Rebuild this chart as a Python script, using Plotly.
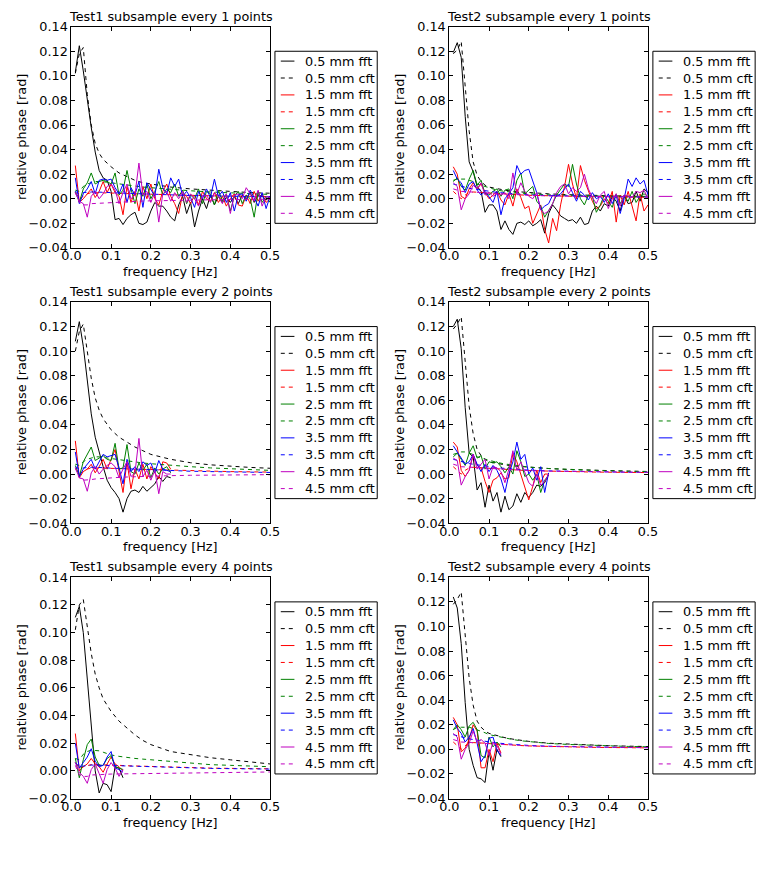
import plotly.graph_objects as go

W, H = 771, 895

FREQ = [0.01, 0.02, 0.03, 0.04, 0.05, 0.06, 0.07, 0.08, 0.09, 0.10,
        0.11, 0.12, 0.13, 0.14, 0.15, 0.16, 0.17, 0.18, 0.19, 0.20,
        0.21, 0.22, 0.23, 0.24, 0.25, 0.26, 0.27, 0.28, 0.29, 0.30,
        0.31, 0.32, 0.33, 0.34, 0.35, 0.36, 0.37, 0.38, 0.39, 0.40,
        0.41, 0.42, 0.43, 0.44, 0.45, 0.46, 0.47, 0.48, 0.49, 0.50]
CFT_FREQ = [0.01, 0.02, 0.03, 0.04, 0.05, 0.06, 0.07, 0.08, 0.09, 0.10,
            0.12, 0.14, 0.16, 0.18, 0.20, 0.25, 0.30, 0.35, 0.40, 0.45, 0.50]

DEPTHS = ["0.5 mm", "1.5 mm", "2.5 mm", "3.5 mm", "4.5 mm"]
COLORS = ["#000000", "#ff0000", "#008000", "#0000ff", "#bf00bf"]
TITLES = ["Test1 subsample every 1 points", "Test2 subsample every 1 points",
          "Test1 subsample every 2 points", "Test2 subsample every 2 points",
          "Test1 subsample every 4 points", "Test2 subsample every 4 points"]
X_TICKS = [0.0, 0.1, 0.2, 0.3, 0.4, 0.5]
Y_RANGES = [[-0.04, 0.14], [-0.04, 0.14], [-0.04, 0.14], [-0.04, 0.14], [-0.02, 0.14], [-0.04, 0.14]]

# ---------------- Test1, every 1 point ----------------
t1_e1_fft_05 = [0.103, 0.1245, 0.104, 0.08, 0.058, 0.038, 0.023, 0.017, 0.015, 0.006,
                -0.017, -0.016, -0.021, -0.016, -0.013, -0.011, -0.02, -0.021, -0.019, -0.01,
                -0.003, -0.006, -0.006, -0.01, -0.015, -0.018, -0.005, 0.002, -0.012, -0.003,
                -0.023, -0.01, 0.0, -0.008, 0.003, -0.005, 0.002, -0.003, 0.001, -0.003,
                0.002, -0.004, 0.003, 0.0, 0.005, -0.003, 0.003, 0.002, -0.001, 0.002]
t1_e1_fft_15 = [0.027, -0.003, 0.0, 0.004, 0.008, 0.001, 0.006, 0.014, 0.005, 0.012,
                0.005, 0.002, -0.013, 0.01, -0.003, 0.006, -0.01, 0.01, 0.0, 0.012,
                0.0, -0.005, 0.006, 0.012, 0.002, -0.004, -0.012, 0.004, 0.002, -0.004,
                0.003, -0.005, 0.006, 0.0, -0.002, 0.005, -0.003, 0.002, -0.006, 0.0,
                0.004, -0.005, -0.006, 0.003, -0.004, 0.006, -0.002, 0.004, -0.003, 0.0]
t1_e1_fft_25 = [0.006, -0.003, 0.008, 0.013, 0.021, 0.012, 0.014, 0.015, 0.014, 0.012,
                0.021, 0.003, 0.007, 0.023, 0.008, -0.004, 0.008, 0.002, 0.012, 0.0,
                0.006, 0.014, 0.003, 0.008, 0.005, 0.012, 0.002, 0.007, -0.004, 0.003,
                0.0, 0.008, -0.004, 0.006, 0.004, -0.005, 0.007, -0.002, 0.004, -0.01,
                0.002, 0.006, -0.004, 0.003, 0.0, -0.015, 0.006, -0.003, 0.002, -0.003]
t1_e1_fft_35 = [0.017, -0.004, 0.004, 0.008, 0.014, 0.004, 0.015, 0.016, 0.015, 0.016,
                0.009, 0.004, 0.012, -0.003, 0.009, 0.003, 0.014, -0.007, 0.013, 0.008,
                0.002, 0.024, 0.009, 0.004, 0.017, 0.01, 0.016, 0.002, 0.006, 0.001,
                -0.007, 0.006, 0.0, 0.008, 0.001, 0.016, 0.002, 0.006, -0.003, 0.005,
                -0.01, 0.003, 0.004, -0.002, 0.007, 0.001, -0.006, 0.005, -0.008, 0.002]
t1_e1_fft_45 = [0.005, -0.002, -0.004, -0.015, 0.002, 0.006, 0.0, 0.004, 0.01, 0.012,
                0.007, -0.004, 0.005, 0.012, 0.0, 0.003, 0.029, 0.003, 0.006, -0.003,
                0.005, -0.019, 0.004, 0.006, -0.002, 0.005, 0.0, 0.006, -0.003, 0.004,
                0.0, -0.006, 0.002, 0.003, -0.003, 0.005, 0.002, -0.004, 0.004, -0.012,
                0.003, 0.004, 0.0, 0.009, 0.004, -0.002, 0.007, -0.006, 0.002, 0.001]
t1_e1_cft_05 = [0.102, 0.118, 0.123, 0.085, 0.06, 0.045, 0.037, 0.032, 0.029, 0.026,
                0.021, 0.018, 0.015, 0.013, 0.012, 0.0095, 0.008, 0.0068, 0.0058, 0.005, 0.0045]
t1_e1_cft_15 = [0.005, 0.0, 0.002, 0.004, 0.005, 0.005, 0.005, 0.005, 0.005, 0.0048,
                0.0045, 0.0042, 0.004, 0.0038, 0.0035, 0.003, 0.0027, 0.0024, 0.0022, 0.002, 0.0018]
t1_e1_cft_25 = [0.007, 0.006, 0.01, 0.012, 0.013, 0.014, 0.014, 0.014, 0.0135, 0.013,
                0.012, 0.011, 0.01, 0.0095, 0.009, 0.0075, 0.0065, 0.0055, 0.0048, 0.004, 0.0035]
t1_e1_cft_35 = [0.006, 0.004, 0.005, 0.0055, 0.0055, 0.0055, 0.0055, 0.0055, 0.0052, 0.005,
                0.0047, 0.0044, 0.0041, 0.0038, 0.0036, 0.003, 0.0026, 0.0023, 0.002, 0.0018, 0.0016]
t1_e1_cft_45 = [0.005, -0.003, -0.005, -0.005, -0.004, -0.0038, -0.0036, -0.0034, -0.0032, -0.003,
                -0.0027, -0.0024, -0.0021, -0.0019, -0.0017, -0.0013, -0.001, -0.0008, -0.0006, -0.0005, -0.0004]

# ---------------- Test2, every 1 point ----------------
t2_e1_fft_05 = [0.119, 0.127, 0.115, 0.067, 0.03, 0.022, 0.01, 0.006, -0.011, -0.005,
                -0.005, -0.01, -0.025, -0.018, -0.025, -0.029, -0.02, -0.019, -0.021, -0.018,
                -0.022, -0.02, -0.017, -0.028, -0.012, -0.005, -0.009, -0.014, -0.016, -0.018,
                -0.017, -0.02, -0.015, -0.021, -0.02, -0.01, -0.006, -0.01, -0.004, -0.006,
                0.002, -0.002, -0.01, 0.003, -0.004, -0.003, 0.006, -0.002, 0.008, 0.005]
t2_e1_fft_15 = [0.026, 0.02, 0.002, 0.0, 0.008, 0.013, 0.008, 0.012, 0.005, 0.0,
                0.003, 0.006, -0.001, -0.005, 0.004, -0.006, 0.008, 0.001, -0.008, -0.006,
                -0.02, -0.012, -0.005, -0.025, -0.036, -0.016, -0.026, -0.005, 0.01, 0.028,
                0.012, 0.0, 0.027, 0.015, 0.006, -0.002, -0.008, -0.006, 0.0, -0.004,
                0.006, -0.019, 0.003, -0.005, 0.006, -0.006, -0.018, 0.004, -0.01, -0.005]
t2_e1_fft_25 = [0.014, 0.017, 0.01, 0.007, 0.016, 0.023, 0.011, 0.015, 0.004, 0.003,
                0.006, 0.008, 0.002, 0.007, 0.008, 0.0, 0.015, 0.021, 0.004, 0.007,
                0.01, -0.002, -0.006, -0.015, -0.01, -0.004, 0.003, 0.008, 0.012, 0.01,
                0.028, 0.012, 0.0, -0.005, 0.003, 0.002, -0.011, -0.005, 0.003, -0.002,
                -0.007, 0.004, -0.004, 0.002, -0.002, 0.006, -0.003, 0.002, 0.004, 0.002]
t2_e1_fft_35 = [0.023, 0.016, 0.013, 0.005, 0.012, 0.014, 0.007, 0.003, 0.006, 0.001,
                -0.003, 0.006, -0.013, 0.0, 0.004, 0.009, 0.027, 0.02, 0.023, 0.024,
                0.015, 0.005, -0.009, -0.006, -0.004, 0.003, 0.002, 0.004, 0.008, 0.012,
                0.005, -0.002, 0.006, 0.003, -0.001, 0.005, 0.0, 0.002, -0.003, 0.004,
                -0.004, 0.003, -0.012, 0.0, 0.016, 0.01, 0.017, 0.012, 0.015, 0.003]
t2_e1_fft_45 = [0.013, 0.01, -0.009, 0.0, 0.004, 0.011, 0.008, 0.013, 0.003, 0.005,
                0.002, 0.004, 0.003, 0.005, 0.0, 0.021, 0.004, 0.013, 0.006, 0.002,
                0.0, 0.005, -0.009, -0.012, -0.01, -0.004, 0.005, 0.01, 0.012, 0.004,
                0.009, 0.006, 0.009, 0.02, 0.008, 0.001, -0.004, 0.003, 0.006, -0.008,
                0.0, 0.004, -0.006, 0.003, 0.002, 0.001, 0.006, 0.005, 0.007, 0.0]
t2_e1_cft_05 = [0.118, 0.121, 0.128, 0.09, 0.055, 0.03, 0.019, 0.014, 0.011, 0.0095,
                0.008, 0.007, 0.006, 0.0055, 0.005, 0.004, 0.0033, 0.0028, 0.0024, 0.0021, 0.0019]
t2_e1_cft_15 = [0.006, 0.003, 0.0, 0.003, 0.005, 0.0055, 0.0055, 0.0052, 0.005, 0.0047,
                0.0042, 0.0038, 0.0034, 0.0031, 0.0028, 0.0023, 0.002, 0.0017, 0.0015, 0.0013, 0.0012]
t2_e1_cft_25 = [0.015, 0.016, 0.016, 0.016, 0.015, 0.014, 0.012, 0.011, 0.0095, 0.0085,
                0.007, 0.006, 0.0052, 0.0046, 0.004, 0.0032, 0.0027, 0.0023, 0.002, 0.0018, 0.0016]
t2_e1_cft_35 = [0.012, 0.011, 0.01, 0.009, 0.0085, 0.008, 0.0075, 0.007, 0.0065, 0.006,
                0.0052, 0.0046, 0.004, 0.0036, 0.0032, 0.0026, 0.0022, 0.0019, 0.0017, 0.0015, 0.0014]
t2_e1_cft_45 = [0.008, 0.007, 0.006, 0.0058, 0.0056, 0.0054, 0.0052, 0.005, 0.0048, 0.0046,
                0.0042, 0.0038, 0.0034, 0.0031, 0.0028, 0.0023, 0.002, 0.0018, 0.0016, 0.0015, 0.0014]

# ---------------- Test1, every 2 points ----------------
t1_e2_fft_05 = [0.108, 0.124, 0.104, 0.078, 0.049, 0.03, 0.017, 0.006, -0.005, -0.011,
                -0.015, -0.02, -0.031, -0.02, -0.014, -0.013, -0.015, -0.01, -0.014, -0.011,
                -0.008, -0.002, -0.006, -0.002, -0.003]
t1_e2_fft_15 = [0.027, -0.003, 0.002, 0.004, 0.008, 0.001, 0.006, 0.012, 0.004, 0.012,
                0.02, 0.002, -0.015, 0.01, -0.012, 0.004, -0.004, 0.008, -0.004, 0.006,
                0.001, -0.004, 0.01, 0.009, 0.004]
t1_e2_fft_25 = [0.007, -0.002, 0.01, 0.016, 0.022, 0.011, 0.013, 0.015, 0.012, 0.011,
                0.025, 0.004, 0.005, 0.024, 0.002, 0.0, 0.009, 0.003, 0.008, -0.003,
                0.005, 0.0, 0.004, 0.006, 0.001]
t1_e2_fft_35 = [0.018, -0.002, 0.004, 0.008, 0.012, 0.004, 0.01, 0.016, 0.014, 0.015,
                0.016, 0.005, -0.008, 0.012, 0.002, 0.006, 0.002, 0.01, 0.007, 0.009,
                0.001, 0.011, 0.004, 0.003, 0.002]
t1_e2_fft_45 = [0.005, -0.003, -0.004, -0.014, 0.001, 0.006, 0.0, 0.004, 0.007, 0.009,
                0.006, -0.003, 0.004, 0.01, -0.002, 0.001, 0.029, -0.002, 0.003, -0.005,
                0.003, -0.016, 0.002, 0.0, 0.0]
t1_e2_cft_05 = [0.1, 0.116, 0.122, 0.1, 0.078, 0.062, 0.052, 0.045, 0.04, 0.036,
                0.03, 0.026, 0.022, 0.019, 0.016, 0.012, 0.0092, 0.0075, 0.0063, 0.0054, 0.0047]
t1_e2_cft_15 = [0.005, 0.0, 0.002, 0.004, 0.005, 0.005, 0.005, 0.005, 0.005, 0.0048,
                0.0045, 0.0042, 0.004, 0.0037, 0.0034, 0.0029, 0.0025, 0.0022, 0.002, 0.0018, 0.0016]
t1_e2_cft_25 = [0.008, 0.007, 0.01, 0.012, 0.013, 0.014, 0.014, 0.0135, 0.013, 0.0125,
                0.0115, 0.0105, 0.0097, 0.009, 0.0084, 0.007, 0.006, 0.005, 0.0042, 0.0036, 0.003]
t1_e2_cft_35 = [0.006, 0.004, 0.005, 0.0055, 0.0055, 0.0055, 0.0055, 0.0053, 0.005, 0.0048,
                0.0045, 0.0042, 0.0039, 0.0036, 0.0033, 0.0027, 0.0023, 0.002, 0.0017, 0.0015, 0.0013]
t1_e2_cft_45 = [0.005, -0.003, -0.005, -0.005, -0.0045, -0.004, -0.0037, -0.0035, -0.0033, -0.003,
                -0.0027, -0.0024, -0.0021, -0.0019, -0.0017, -0.0013, -0.001, -0.0008, -0.0007, -0.0006, -0.0005]

# ---------------- Test2, every 2 points ----------------
t2_e2_fft_05 = [0.12, 0.126, 0.102, 0.054, 0.017, 0.014, -0.013, -0.007, -0.027, -0.009,
                -0.022, -0.015, -0.031, -0.018, -0.029, -0.026, -0.016, -0.023, -0.015, -0.019,
                -0.015, -0.009, -0.01, -0.007, 0.0]
t2_e2_fft_15 = [0.026, 0.022, 0.003, -0.002, 0.003, 0.016, 0.007, 0.005, -0.006, -0.015,
                -0.005, -0.003, 0.001, -0.004, -0.003, 0.017, 0.01, 0.0, -0.012, -0.021,
                -0.01, 0.003, -0.007, 0.0, 0.0]
t2_e2_fft_25 = [0.014, 0.017, 0.012, 0.007, 0.017, 0.023, 0.013, 0.015, 0.004, 0.01,
                0.009, 0.01, 0.006, 0.001, 0.006, 0.0, 0.019, 0.01, -0.002, 0.0,
                -0.005, 0.0, -0.015, -0.005, -0.001]
t2_e2_fft_35 = [0.023, 0.018, 0.014, 0.008, 0.01, 0.016, 0.008, 0.002, 0.008, 0.002,
                0.007, 0.003, -0.004, -0.015, 0.0, 0.01, 0.026, 0.012, 0.016, 0.0,
                0.005, -0.005, 0.006, -0.015, 0.001]
t2_e2_fft_45 = [0.013, 0.011, -0.009, -0.002, 0.003, 0.016, 0.004, 0.008, 0.012, -0.004,
                0.006, 0.005, 0.002, -0.007, 0.004, 0.019, 0.003, 0.01, 0.002, -0.007,
                -0.01, 0.0, -0.009, -0.006, 0.0]
t2_e2_cft_05 = [0.118, 0.122, 0.128, 0.09, 0.055, 0.033, 0.02, 0.015, 0.012, 0.01,
                0.0085, 0.0075, 0.0066, 0.006, 0.0055, 0.0045, 0.0037, 0.0031, 0.0027, 0.0024, 0.0021]
t2_e2_cft_15 = [0.006, 0.003, 0.0, 0.003, 0.005, 0.0055, 0.0055, 0.0052, 0.005, 0.0047,
                0.0042, 0.0038, 0.0034, 0.0031, 0.0028, 0.0023, 0.002, 0.0017, 0.0015, 0.0013, 0.0012]
t2_e2_cft_25 = [0.016, 0.017, 0.018, 0.018, 0.017, 0.016, 0.014, 0.013, 0.012, 0.011,
                0.0095, 0.0082, 0.0072, 0.0064, 0.0057, 0.0045, 0.0037, 0.003, 0.0026, 0.0023, 0.002]
t2_e2_cft_35 = [0.012, 0.011, 0.01, 0.009, 0.0085, 0.008, 0.0075, 0.007, 0.0065, 0.006,
                0.0052, 0.0046, 0.004, 0.0036, 0.0032, 0.0026, 0.0022, 0.0019, 0.0017, 0.0015, 0.0014]
t2_e2_cft_45 = [0.008, 0.007, 0.006, 0.0058, 0.0056, 0.0054, 0.0052, 0.005, 0.0048, 0.0046,
                0.0042, 0.0038, 0.0034, 0.0031, 0.0028, 0.0023, 0.002, 0.0018, 0.0016, 0.0015, 0.0014]

# ---------------- Test1, every 4 points ----------------
t1_e4_fft_05 = [0.111, 0.119, 0.1, 0.066, 0.031, 0.0, -0.016, -0.009, -0.01, -0.015,
                0.003, 0.002, -0.005]
t1_e4_fft_15 = [0.027, 0.0, 0.003, 0.005, 0.009, 0.005, 0.003, -0.001, 0.005, 0.01,
                0.005, 0.003, 0.0]
t1_e4_fft_25 = [0.009, -0.005, 0.008, 0.019, 0.023, 0.01, 0.004, 0.004, 0.009, 0.011,
                0.003, 0.002, 0.001]
t1_e4_fft_35 = [0.02, 0.002, 0.006, 0.01, 0.016, 0.007, 0.003, 0.004, 0.01, 0.014,
                0.002, 0.001, -0.001]
t1_e4_fft_45 = [0.006, -0.001, -0.004, -0.009, 0.001, 0.005, -0.002, -0.009, 0.001, 0.006,
                0.002, -0.004, 0.001]
t1_e4_cft_05 = [0.102, 0.12, 0.124, 0.105, 0.085, 0.07, 0.06, 0.052, 0.047, 0.043,
                0.036, 0.031, 0.026, 0.022, 0.019, 0.014, 0.0115, 0.0095, 0.008, 0.0065, 0.005]
t1_e4_cft_15 = [0.006, 0.002, 0.003, 0.004, 0.0045, 0.0045, 0.0045, 0.0044, 0.0043, 0.0042,
                0.004, 0.0037, 0.0035, 0.0032, 0.003, 0.0026, 0.0023, 0.002, 0.0018, 0.0016, 0.0015]
t1_e4_cft_25 = [0.009, 0.008, 0.012, 0.014, 0.015, 0.015, 0.0145, 0.0135, 0.0125, 0.0115,
                0.0105, 0.0095, 0.009, 0.0085, 0.008, 0.0065, 0.0055, 0.0045, 0.004, 0.0035, 0.003]
t1_e4_cft_35 = [0.006, 0.003, 0.0035, 0.004, 0.0042, 0.0042, 0.0041, 0.004, 0.0039, 0.0038,
                0.0036, 0.0034, 0.0032, 0.003, 0.0028, 0.0024, 0.0021, 0.0018, 0.0016, 0.0014, 0.0013]
t1_e4_cft_45 = [0.004, -0.003, -0.004, -0.004, -0.003, -0.0028, -0.0026, -0.0025, -0.0024, -0.0023,
                -0.0022, -0.0021, -0.002, -0.0019, -0.0018, -0.0016, -0.0014, -0.0012, -0.001, -0.0009, -0.0008]

# ---------------- Test2, every 4 points ----------------
t2_e4_fft_05 = [0.124, 0.115, 0.086, 0.038, 0.0, -0.013, -0.023, -0.024, -0.027, -0.002,
                -0.017, 0.0, -0.006]
t2_e4_fft_15 = [0.026, 0.02, -0.002, 0.001, 0.008, 0.02, 0.015, -0.015, -0.015, 0.0,
                -0.01, 0.005, -0.003]
t2_e4_fft_25 = [0.016, 0.02, 0.016, 0.01, 0.019, 0.022, 0.016, -0.005, -0.007, 0.01,
                0.002, 0.006, 0.002]
t2_e4_fft_35 = [0.024, 0.017, 0.013, 0.006, 0.01, 0.017, 0.005, -0.01, -0.005, 0.009,
                0.01, -0.001, -0.005]
t2_e4_fft_45 = [0.013, 0.01, -0.008, 0.0, 0.005, 0.015, 0.006, 0.008, 0.005, -0.005,
                0.006, 0.003, -0.004]
t2_e4_cft_05 = [0.118, 0.122, 0.128, 0.09, 0.058, 0.036, 0.023, 0.018, 0.015, 0.013,
                0.011, 0.0095, 0.0083, 0.0073, 0.0065, 0.005, 0.0042, 0.0035, 0.003, 0.0026, 0.0023]
t2_e4_cft_15 = [0.006, 0.003, 0.0, 0.003, 0.005, 0.0055, 0.0055, 0.0052, 0.005, 0.0047,
                0.0042, 0.0038, 0.0034, 0.0031, 0.0028, 0.0023, 0.002, 0.0017, 0.0015, 0.0013, 0.0012]
t2_e4_cft_25 = [0.016, 0.018, 0.018, 0.018, 0.018, 0.017, 0.016, 0.015, 0.0135, 0.012,
                0.0105, 0.009, 0.008, 0.007, 0.0062, 0.0048, 0.004, 0.0033, 0.0028, 0.0024, 0.0021]
t2_e4_cft_35 = [0.012, 0.011, 0.01, 0.009, 0.0085, 0.008, 0.0075, 0.007, 0.0065, 0.006,
                0.0052, 0.0046, 0.004, 0.0036, 0.0032, 0.0026, 0.0022, 0.0019, 0.0017, 0.0015, 0.0014]
t2_e4_cft_45 = [0.008, 0.007, 0.006, 0.0058, 0.0056, 0.0054, 0.0052, 0.005, 0.0048, 0.0046,
                0.0042, 0.0038, 0.0034, 0.0031, 0.0028, 0.0023, 0.002, 0.0018, 0.0016, 0.0015, 0.0014]

PANELS = [
    ([t1_e1_fft_05, t1_e1_fft_15, t1_e1_fft_25, t1_e1_fft_35, t1_e1_fft_45],
     [t1_e1_cft_05, t1_e1_cft_15, t1_e1_cft_25, t1_e1_cft_35, t1_e1_cft_45]),
    ([t2_e1_fft_05, t2_e1_fft_15, t2_e1_fft_25, t2_e1_fft_35, t2_e1_fft_45],
     [t2_e1_cft_05, t2_e1_cft_15, t2_e1_cft_25, t2_e1_cft_35, t2_e1_cft_45]),
    ([t1_e2_fft_05, t1_e2_fft_15, t1_e2_fft_25, t1_e2_fft_35, t1_e2_fft_45],
     [t1_e2_cft_05, t1_e2_cft_15, t1_e2_cft_25, t1_e2_cft_35, t1_e2_cft_45]),
    ([t2_e2_fft_05, t2_e2_fft_15, t2_e2_fft_25, t2_e2_fft_35, t2_e2_fft_45],
     [t2_e2_cft_05, t2_e2_cft_15, t2_e2_cft_25, t2_e2_cft_35, t2_e2_cft_45]),
    ([t1_e4_fft_05, t1_e4_fft_15, t1_e4_fft_25, t1_e4_fft_35, t1_e4_fft_45],
     [t1_e4_cft_05, t1_e4_cft_15, t1_e4_cft_25, t1_e4_cft_35, t1_e4_cft_45]),
    ([t2_e4_fft_05, t2_e4_fft_15, t2_e4_fft_25, t2_e4_fft_35, t2_e4_fft_45],
     [t2_e4_cft_05, t2_e4_cft_15, t2_e4_cft_25, t2_e4_cft_35, t2_e4_cft_45]),
]

# ---------------- layout geometry (pixels) ----------------
FONT = "DejaVu Sans"
FS = 12.8
DASH = "4px,4px"
COL_LEFT = [63, 451]
AX_W = 204
ROW_TOP = [19, 299, 579]
AX_H = 225


def px(x):
    return x / W


def py(y):
    return 1 - y / H


fig = go.Figure()
layout = dict(width=W, height=H, autosize=False,
              margin=dict(l=0, r=0, t=0, b=0, pad=0),
              paper_bgcolor="white", plot_bgcolor="white",
              showlegend=False, font=dict(family=FONT, size=FS, color="black"))
annotations = []
shapes = []

for i, (ffts, cfts) in enumerate(PANELS):
    r, c = divmod(i, 2)
    n = i + 1
    xa = "x" if n == 1 else f"x{n}"
    ya = "y" if n == 1 else f"y{n}"
    left = COL_LEFT[c]
    top = ROW_TOP[r]
    for k in range(5):
        fv = ffts[k]
        fig.add_trace(go.Scatter(x=FREQ[:len(fv)], y=fv, mode="lines",
                                 name=f"{DEPTHS[k]} fft", xaxis=xa, yaxis=ya,
                                 line=dict(color=COLORS[k], width=1)))
        fig.add_trace(go.Scatter(x=CFT_FREQ, y=cfts[k], mode="lines",
                                 name=f"{DEPTHS[k]} cft", xaxis=xa, yaxis=ya,
                                 line=dict(color=COLORS[k], width=1, dash=DASH)))
    common = dict(ticks="inside", ticklen=4, tickwidth=1, tickcolor="black",
                  showline=True, linecolor="black", linewidth=1, mirror="allticks",
                  showgrid=False, zeroline=False,
                  tickfont=dict(family=FONT, size=FS, color="black"))
    layout["xaxis" if n == 1 else f"xaxis{n}"] = dict(
        domain=[px(left), px(left + AX_W)], anchor=ya, range=[0, 0.5],
        tickmode="array", tickvals=X_TICKS, tickformat=".1f",
        ticklabelstandoff=-4, **common)
    yr = Y_RANGES[i]
    layout["yaxis" if n == 1 else f"yaxis{n}"] = dict(
        domain=[py(top + AX_H), py(top)], anchor=xa, range=yr,
        tick0=0, dtick=0.02, tickformat=".2f", **common)
    # title
    annotations.append(dict(text=TITLES[i], x=px(left + AX_W / 2), y=py(top - 1),
                            xref="paper", yref="paper", xanchor="center", yanchor="bottom",
                            showarrow=False, font=dict(family=FONT, size=FS, color="black")))
    # x axis label
    annotations.append(dict(text="frequency [Hz]", x=px(left + AX_W / 2), y=py(top + AX_H + 24),
                            xref="paper", yref="paper", xanchor="center", yanchor="middle",
                            showarrow=False, font=dict(family=FONT, size=FS, color="black")))
    # y axis label
    annotations.append(dict(text="relative phase [rad]", x=px(left - 51), y=py(top + AX_H / 2),
                            xref="paper", yref="paper", xanchor="center", yanchor="middle",
                            textangle=-90, showarrow=False,
                            font=dict(family=FONT, size=FS, color="black")))
    # legend box
    lx0 = left + 209
    ly0 = top + 25
    shapes.append(dict(type="rect", xref="paper", yref="paper",
                       x0=px(lx0), x1=px(lx0 + 105), y0=py(ly0), y1=py(ly0 + 175),
                       line=dict(color="black", width=1), fillcolor="white", layer="above"))
    for k in range(5):
        for j, kind in enumerate(["fft", "cft"]):
            idx = 2 * k + j
            yy = ly0 + 10 + idx * 17.2
            shapes.append(dict(type="line", xref="paper", yref="paper",
                               x0=px(lx0 + 6), x1=px(lx0 + 20), y0=py(yy), y1=py(yy),
                               line=dict(color=COLORS[k], width=1,
                                         dash="solid" if kind == "fft" else DASH),
                               layer="above"))
            annotations.append(dict(text=f"{DEPTHS[k]} {kind}", x=px(lx0 + 29), y=py(yy),
                                    xref="paper", yref="paper", xanchor="left", yanchor="middle",
                                    showarrow=False,
                                    font=dict(family=FONT, size=FS, color="black")))

layout["annotations"] = annotations
layout["shapes"] = shapes
fig.update_layout(**layout)
fig.write_html("out.html")
